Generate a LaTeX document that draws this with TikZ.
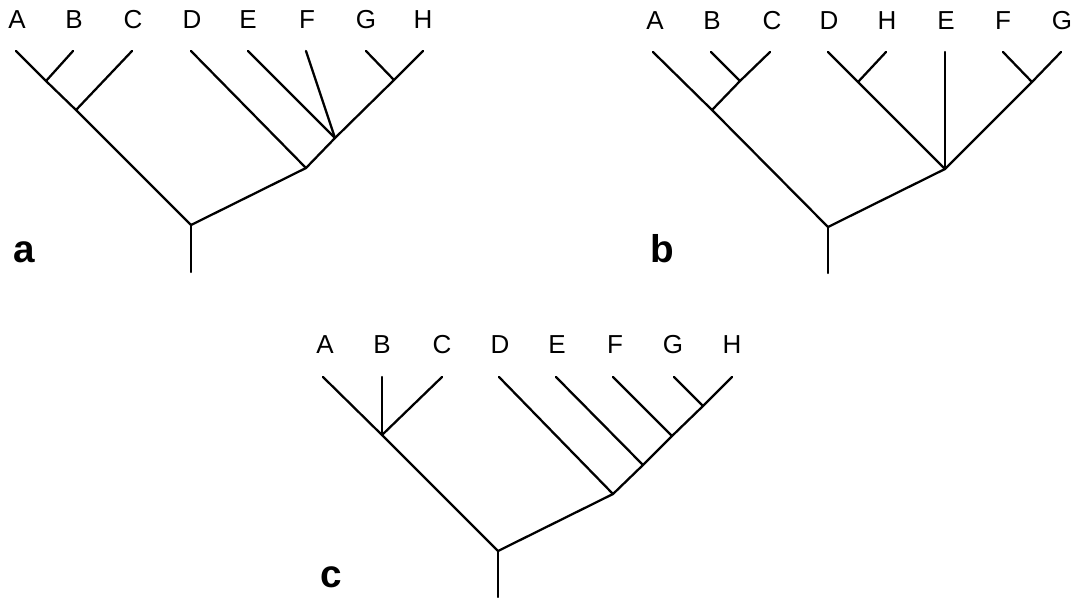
\documentclass[tikz,border=0pt]{standalone}
\usepackage{fontspec}
\setmainfont{Liberation Sans}
\begin{document}
\begin{tikzpicture}[x=0.75pt,y=-0.75pt,
  br/.style={line width=1.7pt,line cap=round,line join=round},
  lab/.style={font=\fontsize{19.5}{22}\selectfont,inner sep=0pt},
  pan/.style={font=\fontsize{29}{32}\selectfont\bfseries,inner sep=0pt}]
\useasboundingbox (0,0) rectangle (1078,597);
% ---------- panel a ----------
\foreach \n/\x in {A/17,B/74,C/133,D/192,E/248,F/307,G/366,H/423}
  \node[lab] (a\n) at (\x,20) {\n};
\foreach \n/\x in {A/16,B/73,C/132,D/191,E/248,F/306,G/366,H/423}
  \coordinate (at\n) at (\x,51);
\coordinate (aAB) at (46,81);
\coordinate (aABC) at (76,110);
\coordinate (aGH) at (394,80);
\coordinate (aEH) at (335,138);
\coordinate (aDH) at (306,168);
\coordinate (aR) at (191,225);
\coordinate (aB0) at (191,272);
\draw[br] (atA) -- (aAB) -- (aABC) -- (aR) -- (aDH) -- (aEH) -- (aGH) -- (atH);
\draw[br] (atB) -- (aAB);
\draw[br] (atC) -- (aABC);
\draw[br] (atD) -- (aDH);
\draw[br] (atE) -- (aEH);
\draw[br] (atF) -- (aEH);
\draw[br] (atG) -- (aGH);
\draw[br] (aR) -- (aB0);
\node[pan,anchor=base] (pa) at (24,262) {a};
% ---------- panel b ----------
\foreach \n/\x in {A/655,B/712,C/772,D/829,H/887,E/946,F/1003,G/1062}
  \node[lab] (b\n) at (\x,21) {\n};
\foreach \n/\x in {A/653,B/711,C/770,D/828,H/886,E/945,F/1003,G/1061}
  \coordinate (bt\n) at (\x,52);
\coordinate (bBC) at (740,81);
\coordinate (bABC) at (712,110);
\coordinate (bDH) at (858,82);
\coordinate (bFG) at (1032,82);
\coordinate (bN) at (945,169);
\coordinate (bR) at (828,227);
\coordinate (bB0) at (828,273);
\draw[br] (btA) -- (bABC) -- (bR) -- (bN) -- (bFG) -- (btG);
\draw[br] (btB) -- (bBC) -- (btC);
\draw[br] (bBC) -- (bABC);
\draw[br] (btD) -- (bDH) -- (bN);
\draw[br] (btH) -- (bDH);
\draw[br] (btE) -- (bN);
\draw[br] (btF) -- (bFG);
\draw[br] (bR) -- (bB0);
\node[pan,anchor=base] (pb) at (662,262) {b};
% ---------- panel c ----------
\foreach \n/\x in {A/325,B/382,C/442,D/500,E/557,F/615,G/673,H/732}
  \node[lab] (c\n) at (\x,345) {\n};
\foreach \n/\x in {A/323,B/382,C/442,D/499,E/556,F/613,G/674,H/732}
  \coordinate (ct\n) at (\x,377);
\coordinate (cABC) at (382,435);
\coordinate (cGH) at (703,406);
\coordinate (cFH) at (672,436);
\coordinate (cEH) at (643,465);
\coordinate (cDH) at (613,494);
\coordinate (cR) at (498,551);
\coordinate (cB0) at (498,597);
\draw[br] (ctA) -- (cABC) -- (cR) -- (cDH) -- (cEH) -- (cFH) -- (cGH) -- (ctH);
\draw[br] (ctB) -- (cABC);
\draw[br] (ctC) -- (cABC);
\draw[br] (ctD) -- (cDH);
\draw[br] (ctE) -- (cEH);
\draw[br] (ctF) -- (cFH);
\draw[br] (ctG) -- (cGH);
\draw[br] (cR) -- (cB0);
\node[pan,anchor=base] (pc) at (331,587) {c};
\end{tikzpicture}
\end{document}
